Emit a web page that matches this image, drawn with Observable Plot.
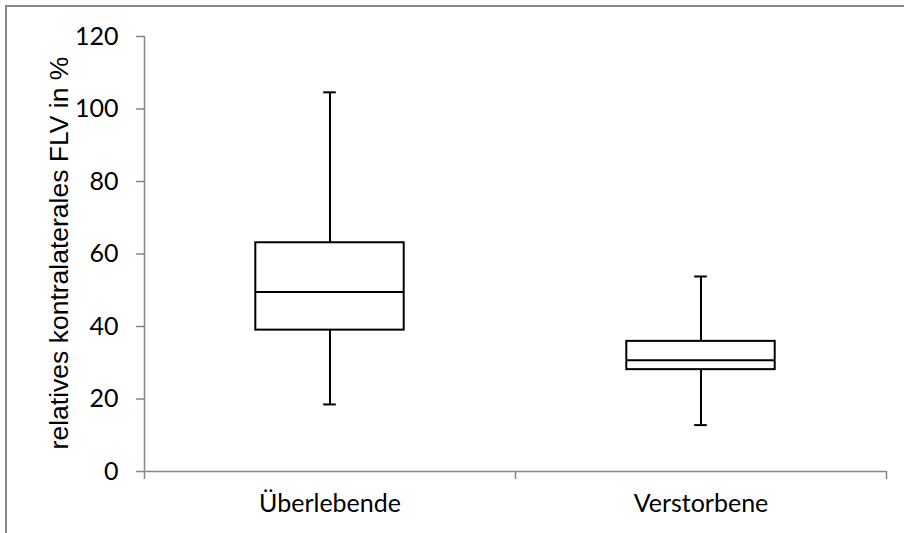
<!DOCTYPE html>
<html>
<head>
<meta charset="utf-8">
<script src="https://cdn.jsdelivr.net/npm/d3@7"></script>
<script src="https://cdn.jsdelivr.net/npm/@observablehq/plot@0.6"></script>
<style>
  body { margin: 0; background: #fff; }
  #wrap { position: relative; width: 904px; height: 533px; overflow: hidden; }
  #border { position: absolute; left: 5px; top: 5px; width: 1000px; height: 1000px;
            border-left: 2px solid #888; border-top: 2px solid #888; }
  #chart { position: absolute; left: 0; top: 0; }
</style>
</head>
<body>
<div id="wrap"><div id="border"></div><div id="chart"></div></div>
<script>
// Box plot statistics per group (relative contralateral FLV, %)
const groups = ["Überlebende", "Verstorbene"];
const minimum = [18.5, 12.8];
const q1 = [39.0, 28.1];
const median = [49.5, 30.7];
const q3 = [63.1, 35.9];
const maximum = [104.6, 53.8];
const yTicks = [0, 20, 40, 60, 80, 100, 120];
const yLabel = "relatives kontralaterales FLV in %";

const boxes = groups.map((g, i) => ({
  group: g, pos: i + 0.5,
  min: minimum[i], q1: q1[i], median: median[i], q3: q3[i], max: maximum[i]
}));

const halfBox = 0.2;   // half box width, in category units
const halfCap = 0.017; // half whisker-cap width
const axisGray = "#868686";
const tickFont = "Lato, Carlito, sans-serif";

const chart = Plot.plot({
  width: 904,
  height: 533,
  marginLeft: 144,
  marginRight: 18,
  marginTop: 36,
  marginBottom: 62,
  style: { background: "transparent", fontFamily: tickFont, fontSize: "25px", color: "black" },
  x: { type: "linear", domain: [0, groups.length], axis: null },
  y: { domain: [0, 120], axis: null },
  marks: [
    // axes
    Plot.ruleX([0], { y1: 0, y2: 120, stroke: axisGray, strokeWidth: 1.5 }),
    Plot.ruleY([0], { x1: 0, x2: groups.length, stroke: axisGray, strokeWidth: 1.5 }),
    Plot.axisY(yTicks, { anchor: "left", tickSize: 8, tickPadding: 18, stroke: axisGray, strokeWidth: 1.5,
                         fill: "black", fontSize: 25, label: null }),
    Plot.axisX(d3.range(groups.length + 1), { anchor: "bottom", tickSize: 8, stroke: axisGray, strokeWidth: 1.5,
                                              fill: "none", label: null }),
    Plot.text(boxes, { x: "pos", text: "group", frameAnchor: "bottom", dy: 40, fontSize: 25, fill: "black" }),
    Plot.text([yLabel], { frameAnchor: "left", textAnchor: "middle", dx: -85, dy: -1, rotate: -90,
                          fontFamily: "'Liberation Sans', Arial, sans-serif", fontSize: 26.5, fill: "black" }),

    // whiskers and caps
    Plot.ruleX(boxes, { x: "pos", y1: "q3", y2: "max", stroke: "black", strokeWidth: 2 }),
    Plot.ruleX(boxes, { x: "pos", y1: "min", y2: "q1", stroke: "black", strokeWidth: 2 }),
    Plot.ruleY(boxes, { y: "max", x1: d => d.pos - halfCap, x2: d => d.pos + halfCap, stroke: "black", strokeWidth: 2 }),
    Plot.ruleY(boxes, { y: "min", x1: d => d.pos - halfCap, x2: d => d.pos + halfCap, stroke: "black", strokeWidth: 2 }),

    // interquartile boxes and medians
    Plot.rect(boxes, { x1: d => d.pos - halfBox, x2: d => d.pos + halfBox, y1: "q1", y2: "q3",
                       fill: "white", stroke: "black", strokeWidth: 2 }),
    Plot.ruleY(boxes, { y: "median", x1: d => d.pos - halfBox, x2: d => d.pos + halfBox, stroke: "black", strokeWidth: 2 })
  ]
});

document.getElementById("chart").appendChild(chart);
</script>
</body>
</html>
